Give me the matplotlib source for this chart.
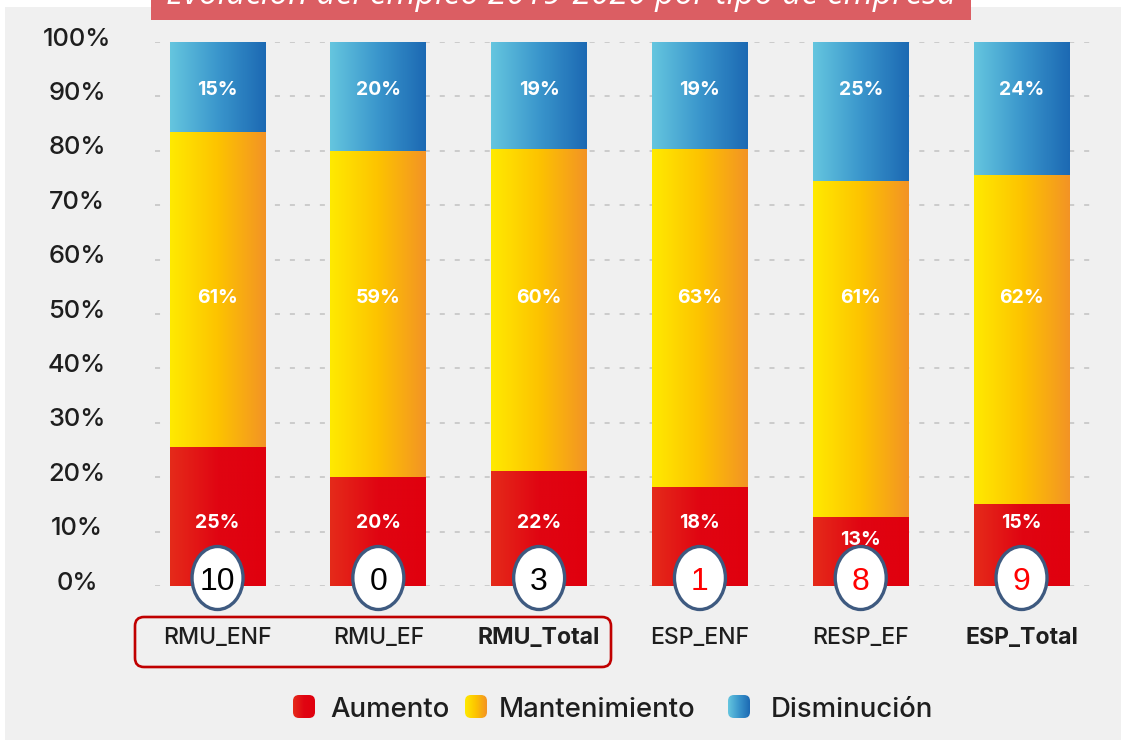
import numpy as np
import matplotlib
matplotlib.use('Agg')
import matplotlib.pyplot as plt
from matplotlib.colors import LinearSegmentedColormap
from matplotlib.patches import Ellipse, FancyBboxPatch, Rectangle
from matplotlib.transforms import ScaledTranslation

# ---------------- data ----------------
categories = ['RMU_ENF', 'RMU_EF', 'RMU_Total', 'ESP_ENF', 'RESP_EF', 'ESP_Total']
bold_categories = ['RMU_Total', 'ESP_Total']
aumento = [25.5, 20.1, 21.1, 18.2, 12.6, 15.0]
mantenimiento = [58.0, 59.9, 59.2, 62.1, 61.8, 60.5]
disminucion = [16.5, 20.0, 19.7, 19.7, 25.6, 24.5]
aumento_labels = ['25%', '20%', '22%', '18%', '13%', '15%']
mantenimiento_labels = ['61%', '59%', '60%', '63%', '61%', '62%']
disminucion_labels = ['15%', '20%', '19%', '19%', '25%', '24%']
circle_numbers = ['10', '0', '3', '1', '8', '9']
circle_colors = ['black', 'black', 'black', 'red', 'red', 'red']
series_names = ['Aumento', 'Mantenimiento', 'Disminución']
yticks = list(range(0, 101, 10))
ytick_labels = [f'{v}%' for v in yticks]
title = 'Evolución del empleo 2019-2020 por tipo de empresa'

# ---------------- style ----------------
FONT = 'Inter'
W, H = 1121, 740
grad_colors = [
    ['#E52B1A', '#E00512', '#E0000E'],
    ['#FFEA00', '#FDC300', '#F39325'],
    ['#65C6DF', '#3A96CC', '#1C69B3'],
]
cmaps = [LinearSegmentedColormap.from_list(f'g{i}', c) for i, c in enumerate(grad_colors)]
grad = np.linspace(0, 1, 256).reshape(1, -1)

fig = plt.figure(figsize=(W / 100, H / 100), dpi=100)
fig.patch.set_facecolor('white')

# decoration axes in pixel coordinates (background, title, legend, box)
dec = fig.add_axes([0, 0, 1, 1], zorder=0)
dec.set_xlim(0, W)
dec.set_ylim(H, 0)
dec.axis('off')
dec.add_patch(Rectangle((5, 7), W - 5, H - 7, facecolor='#F0F0F0', edgecolor='none'))
dec.add_patch(Rectangle((151, -2), 820, 21.5, facecolor='#DB5E63', edgecolor='none', zorder=2))
t = dec.text(561, 4, title, ha='center', va='baseline', color='white', style='italic',
             fontsize=22, family='Open Sans', zorder=3, clip_on=True)
fig.canvas.draw()
bb = t.get_window_extent()
t.set_fontsize(22 * 790 / bb.width)

# main axes
ax = fig.add_axes([155 / W, 1 - 586 / H, (1090 - 155) / W, (586 - 42) / H], zorder=1)
ax.patch.set_alpha(0)
x = np.arange(len(categories))
width = 0.597

for yt in yticks:
    ax.axhline(yt, color='#C9C9C9', lw=1.3, linestyle=(0, (2.8, 5.5)), zorder=0.5)

bottom = np.zeros(len(categories))
for s, vals in enumerate([aumento, mantenimiento, disminucion]):
    bars = ax.bar(x, vals, width, bottom=bottom, color='none', edgecolor='none', zorder=1)
    for r in bars:
        x0, y0 = r.get_x(), r.get_y()
        ax.imshow(grad, extent=[x0, x0 + r.get_width(), y0, y0 + r.get_height()],
                  cmap=cmaps[s], aspect='auto', interpolation='bilinear', zorder=2)
    bottom = bottom + np.array(vals)

ax.set_xlim(-0.389, 5.426)
ax.set_ylim(0, 100)

lab_kw = dict(ha='center', va='center', color='white', fontsize=14, fontweight='bold',
              family=FONT, zorder=4)
for i in range(len(categories)):
    ry = 11.6 if aumento[i] - 11.6 > 2.5 else aumento[i] - 4.2
    ax.text(x[i], ry, aumento_labels[i], **lab_kw)
    ax.text(x[i], 52.9, mantenimiento_labels[i], **lab_kw)
    ax.text(x[i], 91.2, disminucion_labels[i], **lab_kw)

# circles with numbers
for i in range(len(categories)):
    e = Ellipse((x[i], 1.47), 51 / 160.8, 63 / 5.44, facecolor='white',
                edgecolor='#3E5A80', lw=2.4, zorder=5, clip_on=False)
    ax.add_patch(e)
    ax.text(x[i], 0.8, circle_numbers[i], ha='center', va='center', fontsize=23,
            family='Liberation Sans', color=circle_colors[i], zorder=6, clip_on=False)

# y tick labels (centred, slightly above their gridline)
ax.set_yticks(yticks)
ax.set_yticklabels([])
ax.tick_params(axis='y', length=0)
ytrans = ax.get_yaxis_transform() + ScaledTranslation(-0.78, 0.03, fig.dpi_scale_trans)
for yt, lab in zip(yticks, ytick_labels):
    ax.text(0, yt, lab, transform=ytrans, ha='center', va='center', fontsize=18.3,
            family=FONT, fontweight='medium', color='#1E1E1E', clip_on=False)

ax.set_xticks(x)
ax.set_xticklabels(categories, fontsize=16.6, family=FONT, fontweight='medium',
                   color='#1E1E1E')
for lbl in ax.get_xticklabels():
    lbl.set_verticalalignment('baseline')
    if lbl.get_text() in bold_categories:
        lbl.set_fontweight('bold')
ax.tick_params(axis='x', length=0, pad=41.5)
for sp in ax.spines.values():
    sp.set_visible(False)

# red rounded box around RMU labels
dec.add_patch(FancyBboxPatch((135, 617), 476, 50, boxstyle='round,pad=0,rounding_size=9',
                             facecolor='none', edgecolor='#C00000', lw=1.9, zorder=3))

# legend
leg_marker_x = [293, 465, 728]
leg_text_x = [330, 499, 771]
for i, name in enumerate(series_names):
    mx = leg_marker_x[i]
    patch = FancyBboxPatch((mx, 695), 22, 23, boxstyle='round,pad=0,rounding_size=6',
                           facecolor='none', edgecolor='none', zorder=3)
    dec.add_patch(patch)
    im = dec.imshow(grad, extent=[mx, mx + 22, 718, 695], cmap=cmaps[i], aspect='auto',
                    interpolation='bilinear', zorder=3)
    im.set_clip_path(patch)
    dec.text(leg_text_x[i], 717, name, ha='left', va='baseline', fontsize=19.8,
             family=FONT, fontweight='medium', color='#1E1E1E', zorder=3)
dec.set_xlim(0, W)
dec.set_ylim(H, 0)

fig.savefig('out.png', dpi=100)
